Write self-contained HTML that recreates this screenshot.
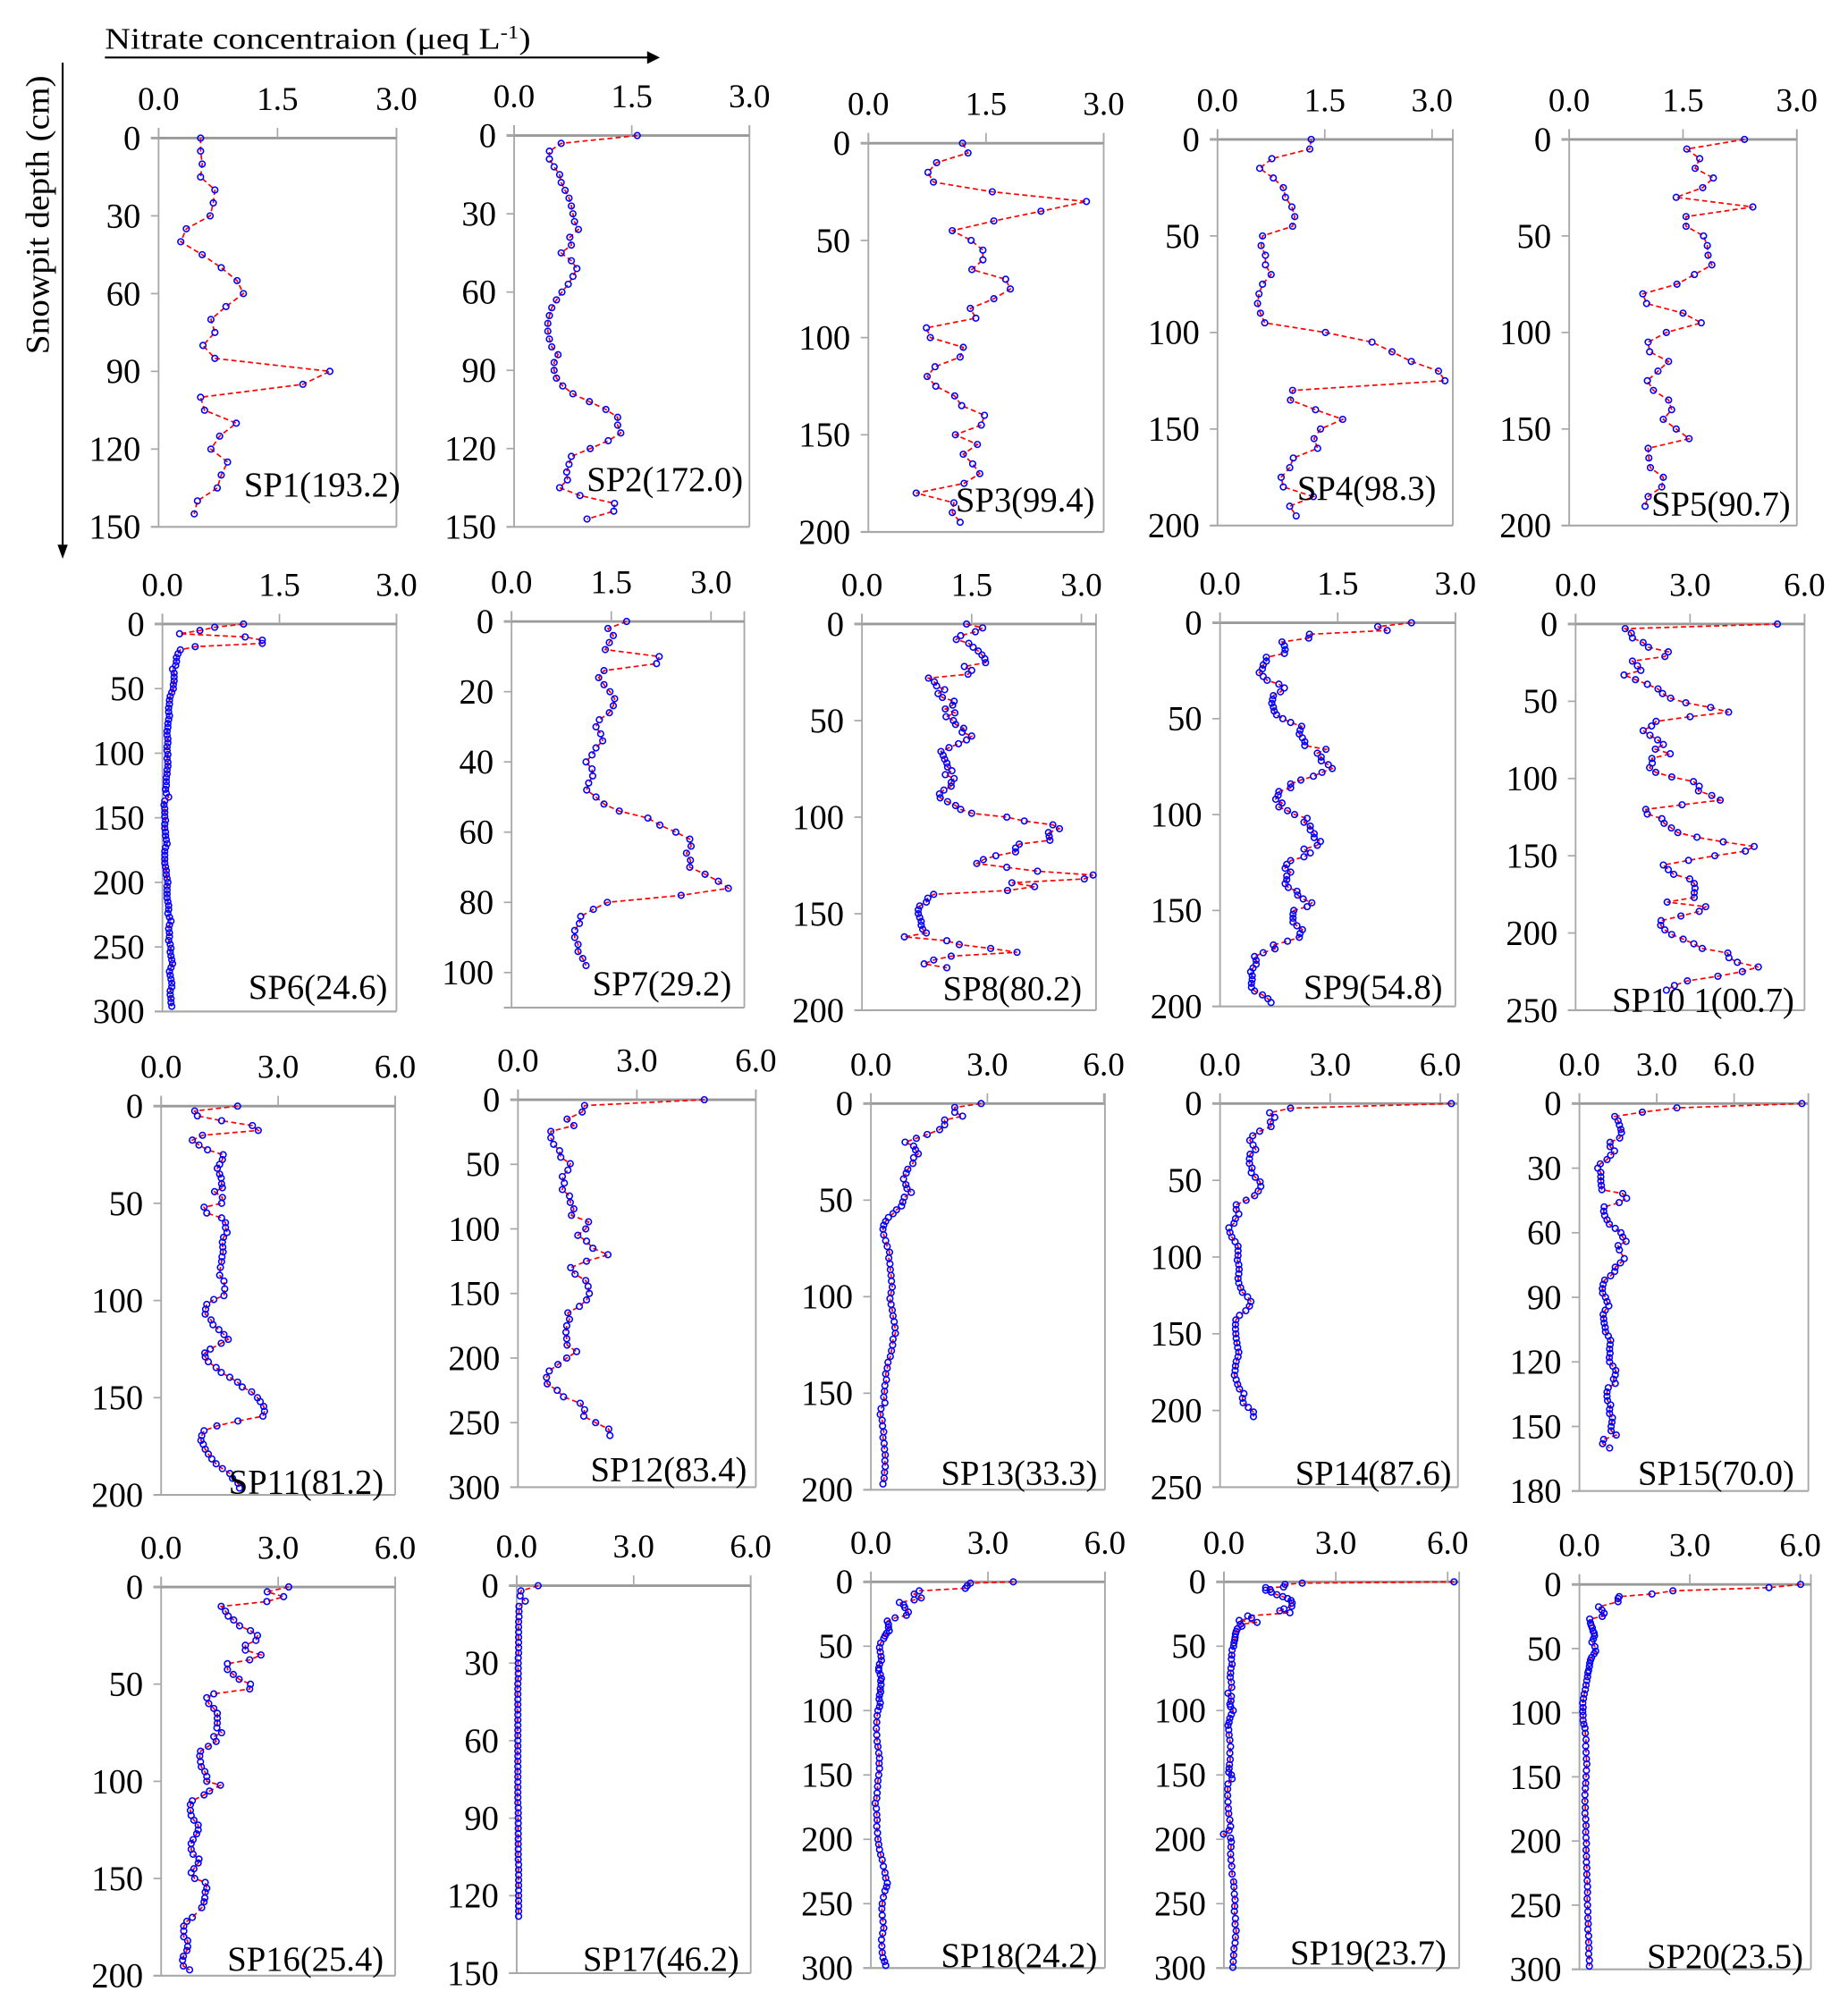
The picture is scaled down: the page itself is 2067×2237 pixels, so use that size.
<!DOCTYPE html>
<html><head><meta charset="utf-8"><title>Snowpit nitrate profiles</title>
<style>html,body{margin:0;padding:0;background:#fff}svg{display:block}</style></head>
<body>
<svg id="chart" xmlns="http://www.w3.org/2000/svg" width="2067" height="2237" viewBox="0 0 1445 1564" preserveAspectRatio="none" font-family="'Liberation Serif', serif">
<text x="82" y="38" font-size="24" textLength="333" lengthAdjust="spacingAndGlyphs">Nitrate concentraion (μeq L<tspan dy="-8" font-size="15">-1</tspan><tspan dy="8">)</tspan></text>
<line x1="82" y1="45" x2="508" y2="45" stroke="#000" stroke-width="1.5"/>
<polygon points="516,45 506,40 506,50" fill="#000"/>
<text transform="translate(38,168) rotate(-90)" text-anchor="middle" font-size="26" textLength="218" lengthAdjust="spacingAndGlyphs">Snowpit depth (cm)</text>
<line x1="49" y1="49" x2="49" y2="428" stroke="#000" stroke-width="1.5"/>
<polygon points="49,437 45,426 53,426" fill="#000"/>
</svg>
<script>
const ticks3=[0,1.5,3.0];
const ticks6=[0,3,6];
const yt150=[0,30,60,90,120,150];
const yt200=[0,50,100,150,200];
const yt250=[0,50,100,150,200,250];
const yt300=[0,50,100,150,200,250,300];
const yt110=[0,20,40,60,80,100];
const yt180=[0,30,60,90,120,150,180];

const sp1Depth=[0,5,10,15,20,25,30,35,40,45,50,55,60,65,70,75,80,85,90,95,100,105,110,115,120,125,130,135,140,145];
const sp1Val=[0.53,0.53,0.55,0.53,0.71,0.69,0.65,0.35,0.28,0.55,0.79,0.99,1.07,0.85,0.66,0.71,0.56,0.71,2.16,1.82,0.53,0.58,0.98,0.77,0.66,0.87,0.79,0.74,0.49,0.45];
const sp2Depth=[0,3,6,9,12,15,18,21,24,27,30,33,36,39,42,45,48,51,54,57,60,63,66,69,72,75,78,81,84,87,90,93,96,99,102,105,108,111,114,117,120,123,126,129,132,135,138,141,144,147];
const sp2Val=[1.57,0.6,0.45,0.45,0.51,0.58,0.6,0.65,0.7,0.73,0.75,0.77,0.82,0.71,0.73,0.6,0.73,0.8,0.75,0.69,0.61,0.54,0.48,0.45,0.43,0.43,0.45,0.48,0.56,0.51,0.51,0.54,0.62,0.75,0.96,1.17,1.32,1.32,1.36,1.2,0.97,0.73,0.7,0.67,0.68,0.58,0.84,1.28,1.27,0.93];
const sp3Depth=[0,5,10,15,20,25,30,35,40,45,50,55,60,65,70,75,80,85,90,95,100,105,110,115,120,125,130,135,140,145,150,155,160,165,170,175,180,185,190,195];
const sp3Val=[1.2,1.27,0.87,0.76,0.83,1.58,2.78,2.2,1.6,1.07,1.31,1.46,1.46,1.32,1.75,1.81,1.6,1.3,1.37,0.74,0.79,1.21,1.17,0.85,0.75,0.86,1.1,1.19,1.48,1.44,1.11,1.39,1.21,1.33,1.42,1.22,0.61,1.09,1.07,1.17];
const sp4Depth=[0,5,10,15,20,25,30,35,40,45,50,55,60,65,70,75,80,85,90,95,100,105,110,115,120,125,130,135,140,145,150,155,160,165,170,175,180,185,190,195];
const sp4Val=[1.31,1.29,0.76,0.59,0.78,0.92,0.95,1.04,1.08,1.05,0.63,0.61,0.67,0.67,0.75,0.63,0.58,0.56,0.6,0.66,1.51,2.16,2.44,2.71,3.09,3.18,1.05,1.02,1.37,1.75,1.44,1.35,1.4,1.06,1.01,0.89,0.92,1.34,1.01,1.1];
const sp5Depth=[0,5,10,15,20,25,30,35,40,45,50,55,60,65,70,75,80,85,90,95,100,105,110,115,120,125,130,135,140,145,150,155,160,165,170,175,180,185,190];
const sp5Val=[2.31,1.55,1.72,1.66,1.9,1.76,1.41,2.42,1.54,1.54,1.77,1.82,1.83,1.88,1.65,1.42,0.97,1.02,1.5,1.74,1.28,1.04,1.06,1.31,1.17,1.03,1.11,1.31,1.35,1.24,1.41,1.58,1.04,1.05,1.07,1.24,1.22,1.04,1.0];
const sp6Depth=[0,2.5,5,7.5,10,12.5,15,17.5,20,23,26,29,32,35,38,41,44,47,50,53,56,59,62,65,68,71,74,77,80,83,86,89,92,95,98,101,104,107,110,113,116,119,122,125,128,131,134,137,140,143,146,149,152,155,158,161,164,167,170,173,176,179,182,185,188,191,194,197,200,203,206,209,212,215,218,221,224,227,230,233,236,239,242,245,248,251,254,257,260,263,266,269,272,275,278,281,284,287,290,293,296];
const sp6Val=[1.04,0.67,0.48,0.22,1.06,1.28,1.28,0.42,0.23,0.2,0.18,0.18,0.17,0.13,0.15,0.15,0.15,0.14,0.14,0.12,0.1,0.09,0.09,0.08,0.08,0.09,0.08,0.07,0.07,0.06,0.06,0.07,0.07,0.06,0.06,0.07,0.06,0.07,0.07,0.06,0.06,0.05,0.05,0.05,0.04,0.05,0.08,0.03,0.02,0.03,0.03,0.03,0.04,0.03,0.03,0.04,0.04,0.05,0.06,0.04,0.03,0.03,0.03,0.03,0.04,0.05,0.05,0.06,0.07,0.06,0.06,0.06,0.06,0.07,0.08,0.08,0.07,0.09,0.11,0.09,0.08,0.09,0.09,0.08,0.1,0.11,0.1,0.11,0.12,0.13,0.11,0.09,0.1,0.11,0.12,0.12,0.1,0.1,0.11,0.11,0.12];
const sp7Depth=[0,2,4,6,8,10,12,14,16,18,20,22,24,26,28,30,32,34,36,38,40,42,44,46,48,50,52,54,56,58,60,62,64,66,68,70,72,74,76,78,80,82,84,86,88,90,92,94,96,98];
const sp7Val=[1.73,1.45,1.53,1.47,1.41,2.22,2.18,1.39,1.31,1.39,1.48,1.55,1.53,1.47,1.32,1.27,1.34,1.37,1.27,1.21,1.12,1.21,1.22,1.16,1.13,1.27,1.39,1.62,2.05,2.23,2.47,2.68,2.7,2.63,2.69,2.68,2.91,3.11,3.26,2.55,1.44,1.23,1.04,1.02,0.95,0.95,1.0,1.0,1.07,1.12];
const sp8Depth=[0,2,4,6,8,10,12,14,16,18,20,22,24,26,28,30,32,34,36,38,40,42,44,46,48,50,52,54,56,58,60,62,64,66,68,70,72,74,76,78,80,82,84,86,88,90,92,94,96,98,100,102,104,106,108,110,112,114,116,118,120,122,124,126,128,130,132,134,136,138,140,142,144,146,148,150,152,154,156,158,160,162,164,166,168,170,172,174,176,178];
const sp8Val=[1.43,1.65,1.55,1.35,1.29,1.46,1.52,1.59,1.64,1.68,1.69,1.4,1.5,1.45,0.91,0.99,1.02,1.13,1.04,1.1,1.26,1.24,1.14,1.27,1.15,1.25,1.28,1.39,1.37,1.5,1.43,1.32,1.19,1.08,1.11,1.13,1.16,1.17,1.23,1.14,1.26,1.22,1.22,1.12,1.06,1.07,1.17,1.28,1.35,1.5,1.98,2.22,2.61,2.7,2.55,2.56,2.57,2.15,2.1,2.1,1.83,1.66,1.57,1.98,2.4,3.16,3.04,2.05,2.36,1.99,0.98,0.9,0.88,0.79,0.77,0.77,0.79,0.81,0.81,0.83,0.88,0.58,1.16,1.33,1.76,2.12,1.22,0.98,0.85,1.16];
const sp9Depth=[0,2,4,6,8,10,12,14,16,18,20,22,24,26,28,30,32,34,36,38,40,42,44,46,48,50,52,54,56,58,60,62,64,66,68,70,72,74,76,78,80,82,84,86,88,90,92,94,96,98,100,102,104,106,108,110,112,114,116,118,120,122,124,126,128,130,132,134,136,138,140,142,144,146,148,150,152,154,156,158,160,162,164,166,168,170,172,174,176,178,180,182,184,186,188,190,192,194,196,198];
const sp9Val=[2.44,2.01,2.13,1.14,1.13,0.79,0.82,0.83,0.82,0.59,0.59,0.55,0.54,0.5,0.55,0.6,0.75,0.82,0.77,0.68,0.67,0.66,0.68,0.69,0.72,0.8,0.9,1.04,1.02,1.01,1.05,1.08,1.08,1.35,1.24,1.29,1.29,1.38,1.43,1.3,1.19,1.03,0.9,0.9,0.75,0.74,0.71,0.79,0.75,0.86,0.95,1.11,1.07,1.15,1.15,1.2,1.2,1.28,1.24,1.07,1.15,1.07,0.9,0.85,0.83,0.9,0.85,0.85,0.83,0.87,0.98,0.99,1.06,1.17,1.11,0.94,0.93,0.93,0.93,0.98,1.05,1.02,1.01,0.86,0.68,0.7,0.55,0.44,0.46,0.46,0.42,0.39,0.41,0.41,0.4,0.4,0.44,0.54,0.61,0.65];
const sp10Depth=[0,3,6,9,12,15,18,21,24,27,30,33,36,39,42,45,48,51,54,57,60,63,66,69,72,75,78,81,84,87,90,93,96,99,102,105,108,111,114,117,120,123,126,129,132,135,138,141,144,147,150,153,156,159,162,165,168,171,174,177,180,183,186,189,192,195,198,201,204,207,210,213,216,219,222,225,228,231,234,237];
const sp10Val=[5.29,1.3,1.46,1.49,1.77,1.91,2.43,2.34,1.49,1.62,1.71,1.27,1.57,1.88,2.16,2.28,2.49,2.89,3.54,4.01,3.0,2.11,1.99,1.77,1.95,2.15,2.3,2.09,2.48,2.0,2.01,1.94,2.1,2.52,3.09,3.24,3.22,3.57,3.79,2.79,1.84,1.88,2.26,2.32,2.51,2.68,3.18,3.87,4.68,4.45,3.65,2.96,2.3,2.43,2.57,2.99,3.11,3.13,3.11,3.11,2.4,3.41,3.24,2.76,2.24,2.23,2.34,2.52,2.82,3.1,3.32,3.99,4.02,4.24,4.79,4.37,3.73,2.93,2.59,2.38];
const sp11Depth=[0,2.5,5,7.5,10,12.5,15,17.5,20,22.5,25,27.5,30,32,35,37,40,42,44,47,50,52,55,57.5,60,62.5,65,67.5,70,72.5,75,77.5,80,83,87,90,94,97.5,99.5,102,104.5,107,110,112.5,115,117.5,120,122,125,127,129,131.5,134.5,137,139.5,142,144.5,147,150,152,154.5,157,159.5,162,164.5,167,169.5,172,174,176.5,179,181.5,184,186.5,189,191.5,194,196.5];
const sp11Val=[1.96,0.86,0.93,1.55,2.34,2.49,1.06,0.8,0.97,1.19,1.59,1.57,1.5,1.44,1.5,1.54,1.55,1.57,1.37,1.57,1.55,1.1,1.17,1.55,1.65,1.65,1.69,1.6,1.57,1.58,1.59,1.56,1.55,1.52,1.5,1.61,1.63,1.61,1.35,1.17,1.14,1.13,1.28,1.33,1.48,1.61,1.72,1.54,1.26,1.12,1.13,1.21,1.41,1.54,1.76,1.96,2.08,2.32,2.47,2.54,2.63,2.65,2.61,1.97,1.43,1.1,1.04,1.02,1.08,1.13,1.21,1.3,1.41,1.57,1.76,1.83,1.97,2.01];
const sp12Depth=[0,4.5,9.5,15,20,24.5,29.5,34.5,39.5,44.5,49.5,54.5,59.5,64.5,69.5,74.5,79.5,84.5,89.5,94.5,100,105,109.5,115,120,125,130,135,140,144.5,150,155,160,165,170,175,180,185,190,195,200,205,210,215,220,225,230,235,240,245,250,255,260];
const sp12Val=[4.7,1.68,1.62,1.24,1.41,0.83,0.83,0.9,1.05,1.08,1.32,1.26,1.12,1.17,1.12,1.3,1.32,1.41,1.35,1.78,1.71,1.51,1.73,1.89,2.27,1.73,1.33,1.44,1.71,1.77,1.8,1.73,1.55,1.26,1.3,1.23,1.21,1.23,1.24,1.48,1.23,1.01,0.79,0.72,0.74,0.99,1.15,1.57,1.68,1.66,1.96,2.29,2.32];
const sp13Depth=[0,2,4.5,6.5,8.5,11,13.5,16,18,20,22,24,26,28,31,34,36,39,42,44,46,48.5,51,53,55,57,59,61,63,65,68,71,74,77,80,83,86,89,92,95,98,101,104,107,110,113,116,119,122,125,128,131,134,137,140,143,146,149,152,155,158,161,164,167,170,173,176,179,182,185,188,191,194,197];
const sp13Val=[2.84,2.16,2.16,2.36,1.9,1.9,1.77,1.45,1.17,0.88,1.1,1.15,1.22,1.1,1.08,0.95,0.91,0.84,0.9,0.93,1.04,0.86,0.82,0.79,0.66,0.57,0.45,0.38,0.33,0.31,0.33,0.38,0.42,0.48,0.46,0.49,0.5,0.52,0.53,0.55,0.52,0.49,0.52,0.55,0.57,0.6,0.62,0.63,0.57,0.56,0.53,0.5,0.44,0.42,0.38,0.4,0.36,0.35,0.33,0.36,0.26,0.24,0.29,0.3,0.33,0.31,0.34,0.35,0.37,0.36,0.37,0.35,0.34,0.31];
const sp14Depth=[0,3,6,9,12,15,18,21,24,27,30,33,36,39,42,45,48,51,54,57,60,63,66,69,72,75,78,81,84,87,90,93,96,99,102,105,108,111,114,117,120,123,126,129,132,135,138,141,144,147,150,153,156,159,162,165,168,171,174,177,180,183,186,189,192,195,198,201,204];
const sp14Val=[6.3,1.92,1.35,1.49,1.37,1.39,1.08,0.89,0.81,0.9,0.97,0.82,0.8,0.8,0.87,0.85,0.96,1.09,1.11,1.04,0.94,0.71,0.44,0.44,0.51,0.42,0.38,0.24,0.27,0.32,0.41,0.49,0.49,0.49,0.47,0.51,0.52,0.51,0.49,0.51,0.56,0.61,0.75,0.84,0.8,0.7,0.53,0.43,0.42,0.42,0.43,0.44,0.46,0.48,0.51,0.49,0.44,0.42,0.41,0.39,0.44,0.48,0.53,0.65,0.61,0.63,0.77,0.91,0.91];
const sp15Depth=[0,2,4,6,8,10,12,13.5,16,18,20,22,24,26,28,30,32,34,36,38,40,41.8,44,46,48,50,52,54,56,58,60,62,64,66,68,72,74,76,78,80,82,84,86,88,90,92,94,96,98,100,102,104,106,108,110,112,114,116,118,120,122,124,126,128,130,132,134,136,138,140,142,144,146,148,150,152,154,156,158,160];
const sp15Val=[8.63,3.78,2.44,1.37,1.5,1.55,1.61,1.63,1.56,1.19,1.19,1.36,1.21,1.07,0.81,0.71,0.83,0.83,0.83,0.85,0.87,1.68,1.83,1.54,0.96,0.94,0.98,1.07,1.16,1.39,1.61,1.68,1.81,1.5,1.55,1.74,1.59,1.39,1.37,1.21,0.98,0.92,0.89,0.9,1.01,1.07,1.14,1.0,0.92,0.94,0.96,1.0,1.01,1.12,1.21,1.19,1.17,1.19,1.16,1.17,1.3,1.41,1.39,1.32,1.39,1.12,1.07,1.07,1.09,1.21,1.17,1.17,1.28,1.26,1.23,1.23,1.43,0.94,0.9,1.17];
const sp16Depth=[0,2.5,5,7.5,10,12.5,15,17,20,22.5,25,27.5,30,32.5,35,37.5,39.5,42.5,45,47.5,50,52.5,55,57,60,62.5,65,67.5,70,72.5,75,77,79.5,82,84.5,87,90,92.5,95,97.5,100,102,105,107,110,112,115,117.5,120,122.5,125,127,130,132,135,137.5,140,142,145,147,150,152,155,157,160,162,165,170,172,174.5,177,180,182,185,187,190,192,195,197];
const sp16Val=[3.27,2.72,3.14,2.71,1.54,1.65,1.72,1.86,2.01,2.29,2.47,2.43,2.16,2.16,2.56,2.27,1.7,1.7,1.85,2.0,2.29,2.27,1.35,1.17,1.22,1.35,1.44,1.44,1.44,1.43,1.55,1.35,1.41,1.21,1.01,0.99,1.01,1.03,1.12,1.17,1.17,1.52,1.24,1.1,0.8,0.75,0.75,0.77,0.84,0.95,0.95,0.91,0.82,0.77,0.77,0.82,0.97,0.95,0.84,0.77,0.86,1.13,1.17,1.13,1.12,1.1,1.04,0.8,0.66,0.58,0.58,0.58,0.68,0.68,0.66,0.57,0.55,0.57,0.73];
const sp17Depth=[0,2,4,6,8,10,12,14,16,18,20,22,24,26,28,30,32,34,36,38,40,42,44,46,48,50,52,54,56,58,60,62,64,66,68,70,72,74,76,78,80,82,84,86,88,90,92,94,96,98,100,102,104,106,108,110,112,114,116,118,120,122,124,126,128];
const sp17Val=[0.55,0.11,0.09,0.22,0.06,0.06,0.06,0.05,0.05,0.05,0.05,0.05,0.05,0.05,0.04,0.04,0.04,0.04,0.04,0.03,0.03,0.03,0.03,0.03,0.03,0.03,0.03,0.03,0.03,0.03,0.03,0.03,0.03,0.03,0.03,0.03,0.03,0.03,0.03,0.03,0.03,0.03,0.03,0.04,0.04,0.04,0.04,0.04,0.04,0.04,0.04,0.04,0.04,0.04,0.05,0.05,0.05,0.05,0.05,0.05,0.05,0.05,0.05,0.05,0.05];
const sp18Depth=[0,1,3,5,7,9.5,12.5,14,16,18,20,23.5,26,28,30.5,33,35.5,38,40,42,44,47.5,51,54.5,58,61,64,67,69,72,75,77,80,83,85.5,88,91,94,97,100,104,109,114,119,124,128,133,137,141,145,150,154.5,159,164,168,172,176,181,185,190,195,200,204,208,212,216,221,226,230,234,237,240,245,250,254,259,264,269,273,278,283,288,292,295,298];
const sp18Val=[3.65,2.55,2.47,2.42,1.24,1.11,1.29,1.11,0.73,0.84,0.87,0.96,0.91,0.62,0.42,0.45,0.45,0.47,0.4,0.36,0.33,0.25,0.22,0.24,0.26,0.27,0.22,0.2,0.2,0.24,0.27,0.25,0.26,0.24,0.25,0.22,0.21,0.24,0.22,0.18,0.16,0.15,0.14,0.15,0.16,0.18,0.2,0.22,0.21,0.22,0.2,0.18,0.17,0.16,0.15,0.11,0.14,0.15,0.16,0.15,0.17,0.18,0.2,0.22,0.25,0.29,0.32,0.36,0.38,0.42,0.4,0.36,0.32,0.29,0.28,0.29,0.31,0.33,0.3,0.27,0.28,0.29,0.31,0.35,0.38];
const sp19Depth=[0,1,2,4,4.5,6,6.5,8,10,11.5,13,14.5,16.5,19,21,22.5,24,26.5,28,30,31.5,33,34.5,36.5,38.5,40.5,43,45,47.5,50,53,57,60,64,67,71,74,78,82,86.5,89,92.5,95,97,100,103,106,109,111.5,115,119,123,128,133,138,142,145,148,150,153,157,161,166,171,176,180,185,190,193,196,199,202,206,211.5,216,221,227,233,237,242.5,247,252,256,261.5,266,271,276,280.5,285,290,295,299.5];
const sp19Val=[6.17,2.1,1.64,1.6,1.12,1.24,1.12,1.27,1.42,1.58,1.71,1.8,1.83,1.82,1.61,1.5,1.77,0.64,0.74,0.41,0.89,0.44,0.48,0.36,0.33,0.31,0.3,0.29,0.27,0.26,0.22,0.21,0.2,0.22,0.19,0.18,0.17,0.2,0.21,0.11,0.2,0.19,0.16,0.18,0.25,0.2,0.16,0.14,0.11,0.13,0.14,0.16,0.18,0.16,0.17,0.15,0.14,0.13,0.2,0.22,0.11,0.1,0.1,0.11,0.12,0.13,0.16,0.18,0.14,-0.01,0.18,0.2,0.19,0.18,0.19,0.21,0.22,0.26,0.27,0.28,0.3,0.29,0.28,0.31,0.3,0.33,0.31,0.3,0.27,0.26,0.25,0.24];
const sp20Depth=[0,2.5,5,7.5,9.5,11,13.5,17.5,20,22.5,25,27,30,32,34,36.5,38,40,42.5,45,48.5,52,54,57,59,61.5,64,67,69,72,75,78.5,82,85.5,89,92.5,96,99,102,106,109,112,116,121,126,131,136,140,145,150,155,159,164,169,174,178.5,183,188,193,197.5,202,207,212,216.5,221,226,231,235.5,240,245,250,255,260,264.5,269,274,279,283.5,288,293,297.5];
const sp20Val=[6.01,5.15,2.54,1.97,1.08,1.05,1.05,0.52,0.61,0.67,0.62,0.28,0.3,0.32,0.35,0.37,0.4,0.41,0.38,0.34,0.42,0.44,0.4,0.33,0.3,0.28,0.27,0.25,0.23,0.22,0.2,0.18,0.16,0.13,0.11,0.09,0.1,0.09,0.1,0.1,0.12,0.15,0.16,0.18,0.17,0.18,0.19,0.2,0.19,0.18,0.17,0.16,0.15,0.15,0.16,0.15,0.17,0.18,0.17,0.18,0.19,0.18,0.19,0.19,0.2,0.2,0.21,0.22,0.22,0.21,0.22,0.23,0.23,0.24,0.23,0.25,0.25,0.26,0.25,0.27,0.27];

const panelLabels=["SP1(193.2)","SP2(172.0)","SP3(99.4)","SP4(98.3)","SP5(90.7)","SP6(24.6)","SP7(29.2)","SP8(80.2)","SP9(54.8)","SP10 1(00.7)","SP11(81.2)","SP12(83.4)","SP13(33.3)","SP14(87.6)","SP15(70.0)","SP16(25.4)","SP17(46.2)","SP18(24.2)","SP19(23.7)","SP20(23.5)"];

// layout only (box geometry, axis extent)
const panels=[
 {d:sp1Depth,v:sp1Val,x0:124,x1:310,yt:108,yb:412,xmax:3,ymax:150,xt:ticks3,yt2:yt150,lx:313,ly:-24},
 {d:sp2Depth,v:sp2Val,x0:402,x1:586,yt:106,yb:412,xmax:3,ymax:150,xt:ticks3,yt2:yt150,lx:581,ly:-28},
 {d:sp3Depth,v:sp3Val,x0:679,x1:863,yt:112,yb:416,xmax:3,ymax:200,xt:ticks3,yt2:yt200,lx:856,ly:-16},
 {d:sp4Depth,v:sp4Val,x0:952,x1:1136,yt:109,yb:411,xmax:3.29,ymax:200,xt:ticks3,yt2:yt200,lx:1123,ly:-20},
 {d:sp5Depth,v:sp5Val,x0:1227,x1:1405,yt:109,yb:411,xmax:3,ymax:200,xt:ticks3,yt2:yt200,lx:1400,ly:-8},
 {d:sp6Depth,v:sp6Val,x0:127,x1:310,yt:488,yb:791,xmax:3,ymax:300,xt:ticks3,yt2:yt300,lx:303,ly:-10},
 {d:sp7Depth,v:sp7Val,x0:400,x1:582,yt:486,yb:788,xmax:3.5,ymax:110,xt:ticks3,yt2:yt110,lx:572,ly:-10},
 {d:sp8Depth,v:sp8Val,x0:674,x1:857,yt:488,yb:790,xmax:3.2,ymax:200,xt:ticks3,yt2:yt200,lx:846,ly:-8},
 {d:sp9Depth,v:sp9Val,x0:954,x1:1138,yt:487,yb:787,xmax:3,ymax:200,xt:ticks3,yt2:yt200,lx:1128,ly:-6},
 {d:sp10Depth,v:sp10Val,x0:1232,x1:1411,yt:488,yb:790,xmax:6,ymax:250,xt:ticks6,yt2:yt250,lx:1403,ly:1},
 {d:sp11Depth,v:sp11Val,x0:126,x1:309,yt:865,yb:1169,xmax:6,ymax:200,xt:ticks6,yt2:yt200,lx:300,ly:-1},
 {d:sp12Depth,v:sp12Val,x0:405,x1:591,yt:860,yb:1163,xmax:6,ymax:300,xt:ticks6,yt2:yt300,lx:584,ly:-5},
 {d:sp13Depth,v:sp13Val,x0:681,x1:864,yt:863,yb:1165,xmax:6.03,ymax:200,xt:ticks6,yt2:yt200,lx:858,ly:-4},
 {d:sp14Depth,v:sp14Val,x0:954,x1:1140,yt:863,yb:1163,xmax:6.48,ymax:250,xt:ticks6,yt2:yt250,lx:1135,ly:-2},
 {d:sp15Depth,v:sp15Val,x0:1235,x1:1414,yt:863,yb:1166,xmax:8.88,ymax:180,xt:ticks6,yt2:yt180,lx:1403,ly:-5},
 {d:sp16Depth,v:sp16Val,x0:126,x1:309,yt:1241,yb:1545,xmax:6,ymax:200,xt:ticks6,yt2:yt200,lx:300,ly:-4},
 {d:sp17Depth,v:sp17Val,x0:404,x1:587,yt:1240,yb:1543,xmax:6,ymax:150,xt:ticks6,yt2:yt150,lx:578,ly:-2},
 {d:sp18Depth,v:sp18Val,x0:681,x1:864,yt:1237,yb:1539,xmax:6,ymax:300,xt:ticks6,yt2:yt300,lx:858,ly:-1},
 {d:sp19Depth,v:sp19Val,x0:957,x1:1141,yt:1237,yb:1539,xmax:6.31,ymax:300,xt:ticks6,yt2:yt300,lx:1131,ly:-3},
 {d:sp20Depth,v:sp20Val,x0:1235,x1:1416,yt:1239,yb:1540,xmax:6.29,ymax:300,xt:ticks6,yt2:yt300,lx:1410,ly:-1}
];

const NS="http://www.w3.org/2000/svg";
const svg=document.getElementById('chart');
function mk(tag,attrs,parent){const e=document.createElementNS(NS,tag);for(const k in attrs)e.setAttribute(k,attrs[k]);(parent||svg).appendChild(e);return e;}

panels.forEach((p,i)=>{
  const n=i+1;
  const g=mk('g',{});
  
  
  const xs=v=>p.x0+(v/p.xmax)*(p.x1-p.x0);
  const ys=d=>p.yt+(d/p.ymax)*(p.yb-p.yt);
  // frame
  const fl=mk('line',{x1:p.x0,y1:p.yt-8,x2:p.x0,y2:p.yb,stroke:'#a8a8a8','stroke-width':1.3},g);
  
  
  const fr=mk('line',{x1:p.x1,y1:p.yt-8,x2:p.x1,y2:p.yb,stroke:'#a8a8a8','stroke-width':1.3},g);
  
  
  const fb=mk('line',{x1:p.x0-6,y1:p.yb,x2:p.x1,y2:p.yb,stroke:'#a8a8a8','stroke-width':1.5},g);
  
  
  const ax=mk('line',{x1:p.x0-6,y1:p.yt,x2:p.x1,y2:p.yt,stroke:'#999','stroke-width':2},g);
  
  
  p.xt.forEach(t=>{
    const x=xs(t);
    const tk=mk('line',{x1:x,y1:p.yt-8,x2:x,y2:p.yt,stroke:'#a8a8a8','stroke-width':1.2},g);
    
    
    const tl=mk('text',{x:x,y:p.yt-22,'text-anchor':'middle','font-size':26},g);
    tl.textContent=t.toFixed(1);
    
    
  });
  p.yt2.forEach(t=>{
    const y=ys(t);
    const tk=mk('line',{x1:p.x0-6,y1:y,x2:p.x0,y2:y,stroke:'#a8a8a8','stroke-width':1.2},g);
    
    
    const tl=mk('text',{x:p.x0-14,y:y+9,'text-anchor':'end','font-size':27},g);
    tl.textContent=String(t);
    
    
  });
  const m=Math.min(p.d.length,p.v.length);
  let pts=[];
  for(let k=0;k<m;k++)pts.push(xs(p.v[k]).toFixed(2)+','+ys(p.d[k]).toFixed(2));
  const pl=mk('polyline',{points:pts.join(' '),fill:'none',stroke:'#ff0000','stroke-width':1.2,'stroke-dasharray':'4 2.5'},g);
  
  
  for(let k=0;k<m;k++){
    const c=mk('circle',{cx:xs(p.v[k]),cy:ys(p.d[k]),r:2.3,fill:'none',stroke:'#0000ff','stroke-width':1.1},g);
    
    
  }
  const lb=mk('text',{x:p.lx,y:p.yb+p.ly,'text-anchor':'end','font-size':27},g);
  lb.textContent=panelLabels[i];
  
  
});
</script>
</body></html>
